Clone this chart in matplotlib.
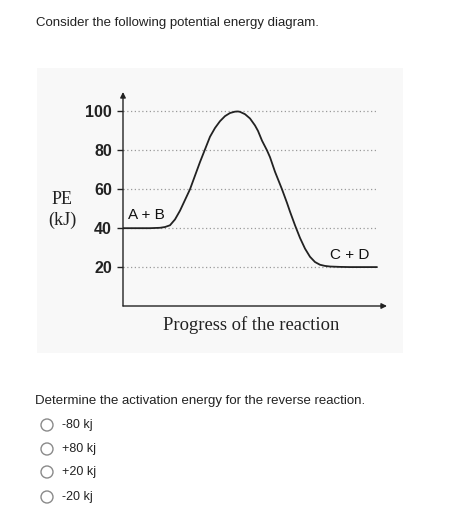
import matplotlib
matplotlib.use("Agg")
import matplotlib.pyplot as plt
from matplotlib.patches import Rectangle, Circle

# --------------------------------------------------------------
# Data
# --------------------------------------------------------------
progress = [0, 27, 37, 42, 47, 52, 57, 62, 67, 72, 77, 82, 87, 92, 97,
            102, 107, 112, 115, 117, 122, 127, 132, 135, 139, 144, 147,
            152, 159, 164, 167, 172, 177, 182, 187, 192, 197, 202, 207,
            217, 227, 254]
energy = [40, 40, 40.2, 40.6, 41.5, 44.5, 49, 54.5, 60, 67, 74, 80.5,
          87, 91.5, 95, 97.6, 99.2, 99.9, 100, 99.8, 98.6, 96.4, 92.8,
          90, 85, 80, 76.5, 69, 60, 53, 48.5, 41.5, 35, 29.5, 25.3, 22.6,
          21.2, 20.6, 20.3, 20.1, 20, 20]
pe_ticks = [20, 40, 60, 80, 100]
reactants = "A + B"
products = "C + D"
question_title = "Consider the following potential energy diagram."
question = "Determine the activation energy for the reverse reaction."
options = ["-80 kj", "+80 kj", "+20 kj", "-20 kj"]

W, H = 462, 522
fig = plt.figure(figsize=(W / 100, H / 100), dpi=100)
fig.patch.set_facecolor("white")

# overlay axes in pixel coordinates for the page text
page = fig.add_axes([0, 0, 1, 1])
page.set_xlim(0, W)
page.set_ylim(H, 0)
page.axis("off")

# light grey panel behind the diagram
page.add_patch(Rectangle((37, 68), 366, 285, facecolor="#f8f8f8", edgecolor="none"))

sans = "Liberation Sans"
serif = "Liberation Serif"
txt = "#222222"

page.text(36, 23, question_title, fontsize=9.5, family=sans, color=txt, va="center")
page.text(35, 401, question, fontsize=9.5, family=sans, color=txt, va="center")
opt_y = [425, 449, 472, 497]
for y, opt in zip(opt_y, options):
    page.add_patch(Circle((47, y), 6, facecolor="white", edgecolor="#8a8a8a", lw=1))
    page.text(62, y, opt, fontsize=9, family=sans, color=txt, va="center")

page.text(62.5, 200, "PE", fontsize=13, family=serif, color=txt, ha="center", va="center")
page.text(62.5, 220, "(kJ)", fontsize=13, family=serif, color=txt, ha="center", va="center")
page.text(251.5, 325, "Progress of the reaction", fontsize=13.4, family=serif,
          color=txt, ha="center", va="center")

# --------------------------------------------------------------
# Diagram
# --------------------------------------------------------------
ax = fig.add_axes([123 / W, 1 - 306 / H, 264 / W, 214 / H])
ax.patch.set_alpha(0)
ax.set_xlim(0, 264)
ax.set_ylim(0, 110)
for s in ax.spines.values():
    s.set_visible(False)

ax.hlines(pe_ticks, 0, max(progress), colors="#9a9a9a", linestyles=(0, (1, 2)), lw=0.9)
ax.plot(progress, energy, color="#222222", lw=1.3, solid_joinstyle="round",
        solid_capstyle="round")

arrow = dict(arrowstyle="-|>", color="#222222", lw=1, mutation_scale=8, shrinkA=0, shrinkB=0)
ax.annotate("", xy=(0, 110), xytext=(0, 0), arrowprops=arrow, annotation_clip=False)
ax.annotate("", xy=(264, 0), xytext=(0, 0), arrowprops=arrow, annotation_clip=False)

ax.set_xticks([])
ax.set_yticks(pe_ticks)
ax.set_yticklabels([str(t) for t in pe_ticks], fontsize=11.5, fontweight="bold",
                   family=sans, color=txt)
ax.tick_params(axis="y", direction="out", length=4, width=1, pad=4, color="#222222")

ax.text(5, 46.8, reactants, fontsize=11, family=sans, color="#111111", va="center")
ax.text(207, 26.2, products, fontsize=11, family=sans, color="#111111", va="center")

plt.savefig("out.png", dpi=100)
